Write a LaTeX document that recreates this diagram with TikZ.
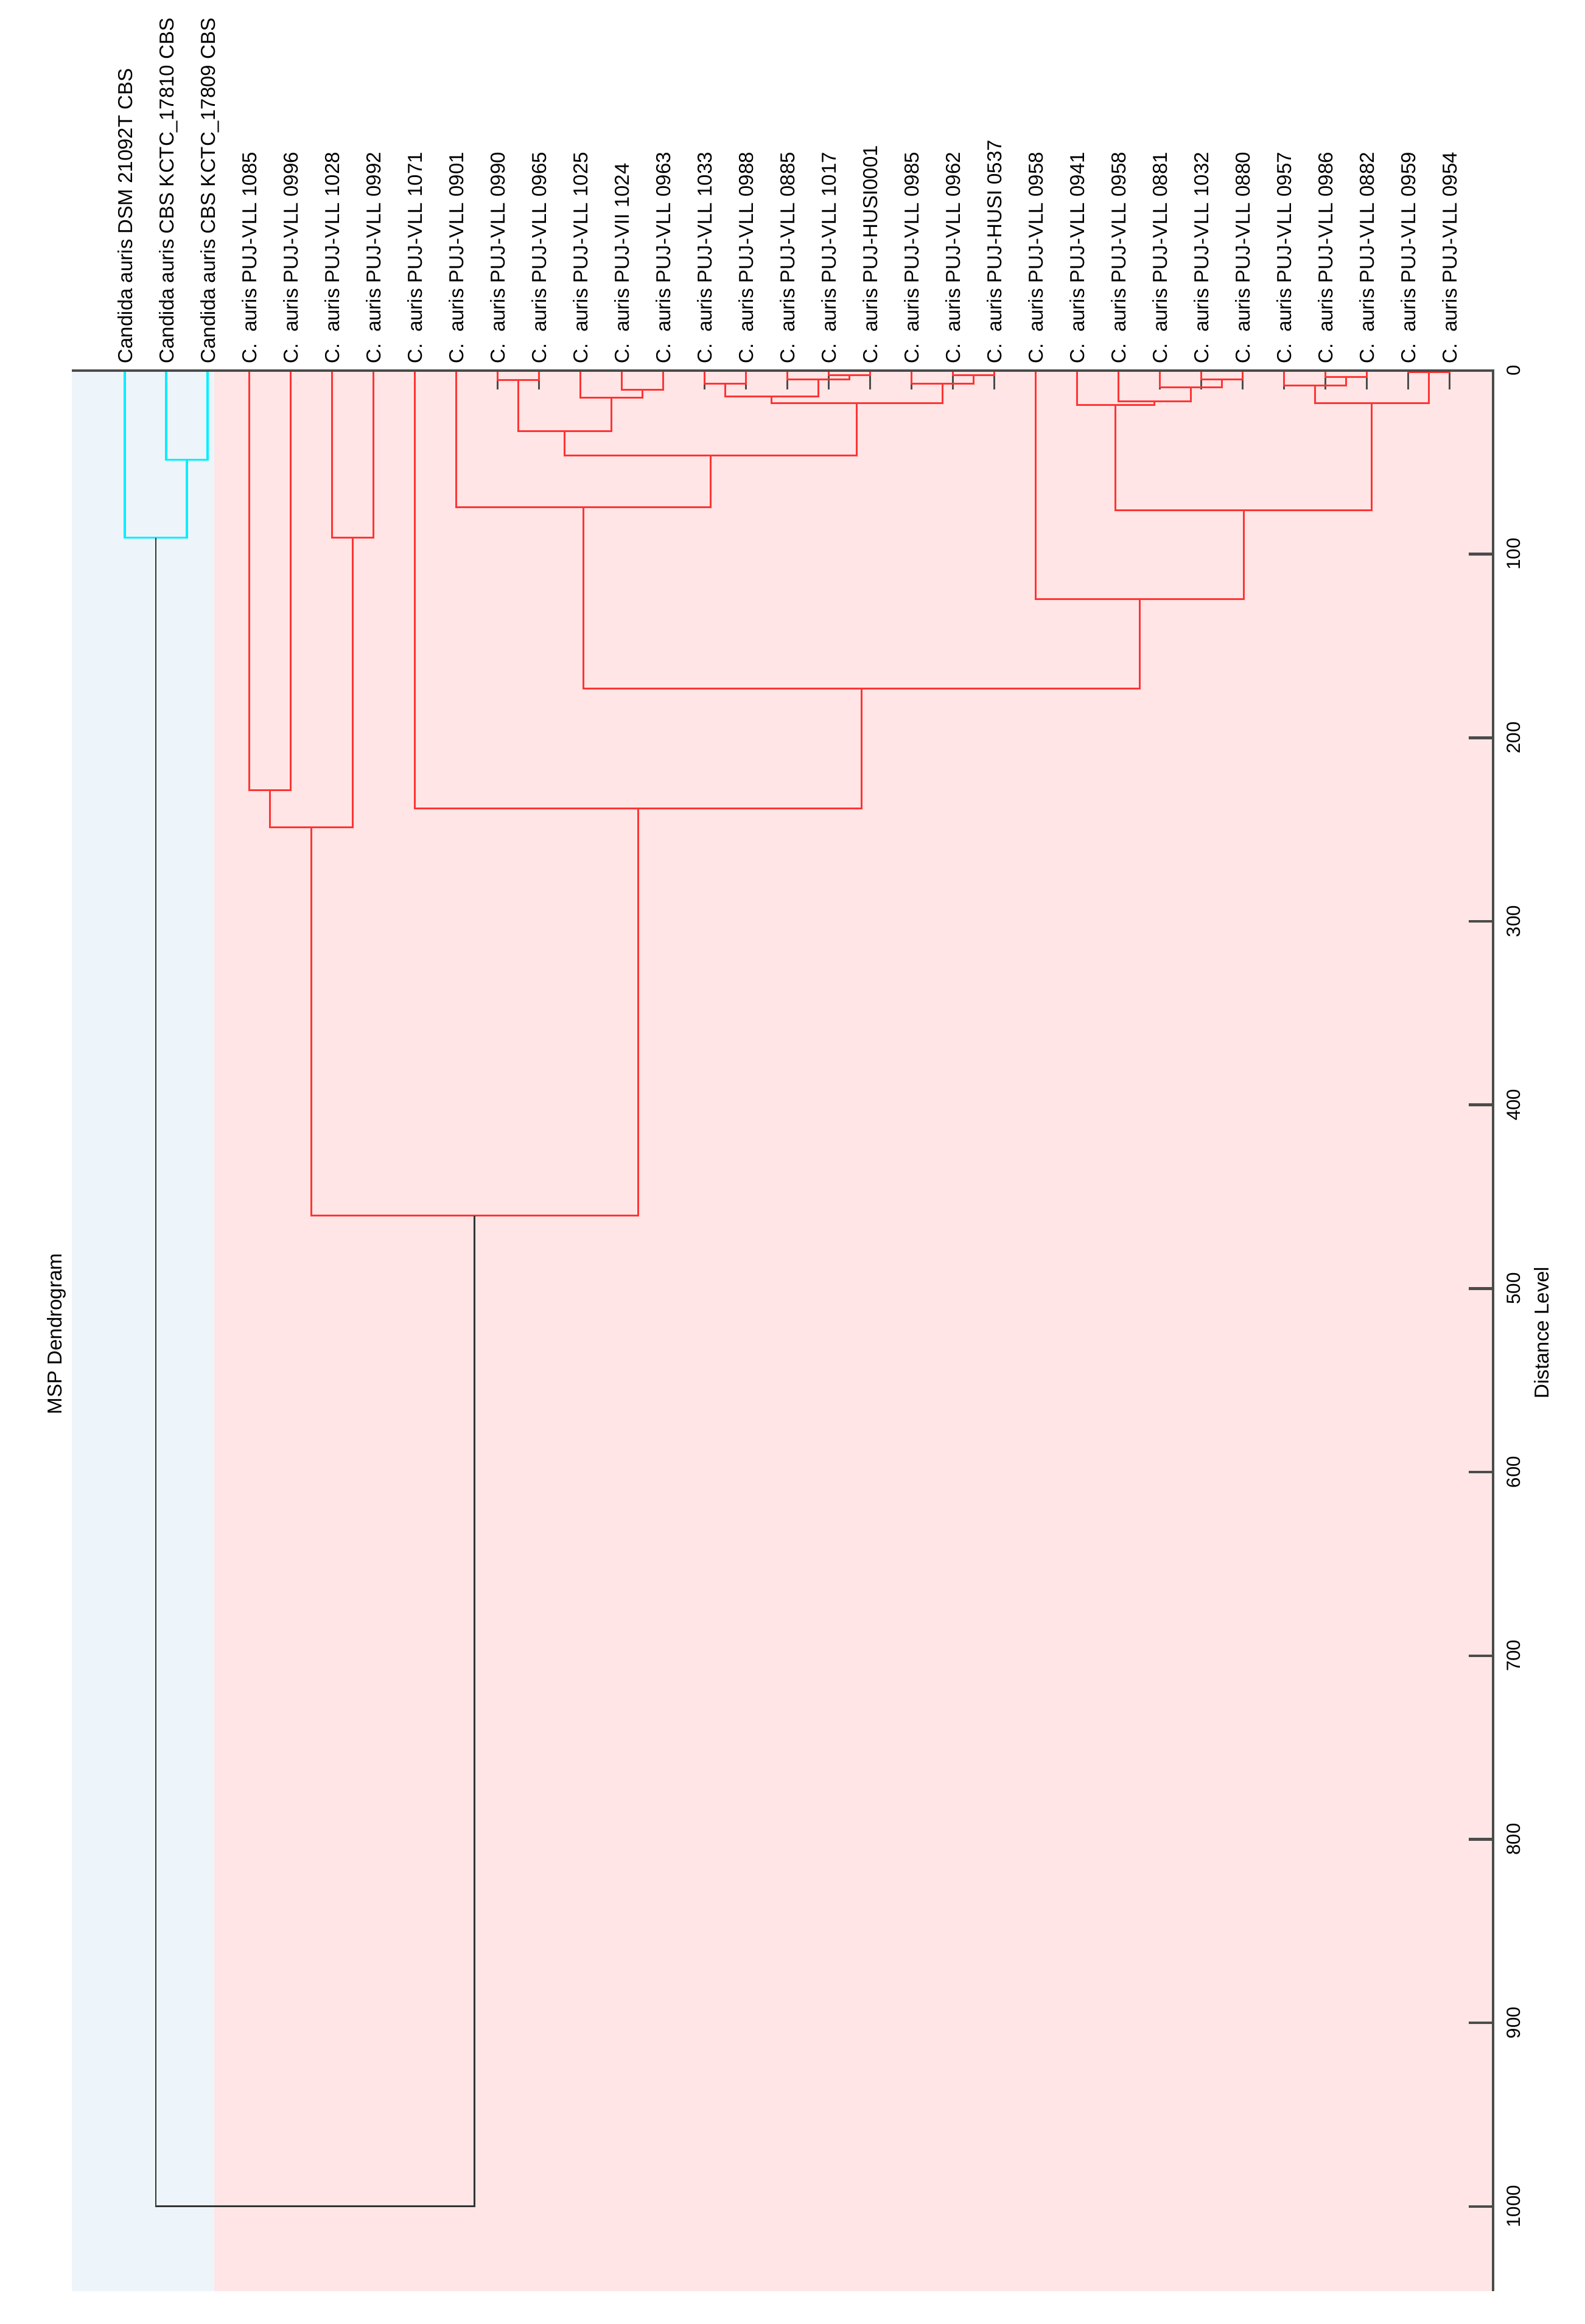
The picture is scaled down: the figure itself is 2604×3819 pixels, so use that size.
\documentclass[tikz,border=0pt]{standalone}
\usepackage{fontspec}
\setmainfont{Liberation Sans}
\definecolor{linkred}{RGB}{255,52,52}
\definecolor{linkcyan}{RGB}{0,238,255}
\definecolor{bluebg}{RGB}{237,245,250}
\definecolor{pinkbg}{RGB}{255,229,229}
\definecolor{axisgray}{RGB}{75,75,75}
\begin{document}
\begin{tikzpicture}[x=0.01cm, y=-0.01cm,
  font=\fontsize{9.4}{11}\selectfont,
  leaf/.style={rotate=90, anchor=west, inner sep=0pt, text height=0.72em, text depth=0pt},
  ticklabel/.style={rotate=90, anchor=north, inner sep=0pt, text height=0.72em, text depth=0pt,
    font=\fontsize{8.9}{10}\selectfont},
  redlink/.style={draw=linkred, line width=0.85pt},
  cyanlink/.style={draw=linkcyan, line width=1pt},
  rootlink/.style={draw=black!80, line width=0.85pt},
  leaftick/.style={draw=black!70, line width=0.85pt},
  axisline/.style={draw=axisgray, line width=1.3pt}]

\useasboundingbox (0,0) rectangle (2604,3819);

%shaded groups
    \fill[bluebg] (118,609) rectangle (352,3765);
    \fill[pinkbg] (352,609) rectangle (2453,3765);

%titles
    \node[rotate=90] (title) at (93,2192) {MSP Dendrogram};
    \node[rotate=90] (axistitle) at (2533,2190) {Distance Level};

\begin{scope}[shift={(0,609)}, y=-0.03015cm]

%strains and labels
  \foreach \i/\name in {1/Candida auris DSM 21092T CBS, 2/Candida auris CBS KCTC\_17810 CBS,
      3/Candida auris CBS KCTC\_17809 CBS, 4/C.\ \ auris PUJ-VLL 1085, 5/C.\ \ auris PUJ-VLL 0996,
      6/C.\ \ auris PUJ-VLL 1028, 7/C.\ \ auris PUJ-VLL 0992, 8/C.\ \ auris PUJ-VLL 1071,
      9/C.\ \ auris PUJ-VLL 0901, 10/C.\ \ auris PUJ-VLL 0990, 11/C.\ \ auris PUJ-VLL 0965,
      12/C.\ \ auris PUJ-VLL 1025, 13/C.\ \ auris PUJ-VII 1024, 14/C.\ \ auris PUJ-VLL 0963,
      15/C.\ \ auris PUJ-VLL 1033, 16/C.\ \ auris PUJ-VLL 0988, 17/C.\ \ auris PUJ-VLL 0885,
      18/C.\ \ auris PUJ-VLL 1017, 19/C.\ \ auris PUJ-HUSI0001, 20/C.\ \ auris PUJ-VLL 0985,
      21/C.\ \ auris PUJ-VLL 0962, 22/C.\ \ auris PUJ-HUSI 0537, 23/C.\ \ auris PUJ-VLL 0958,
      24/C.\ \ auris PUJ-VLL 0941, 25/C.\ \ auris PUJ-VLL 0958, 26/C.\ \ auris PUJ-VLL 0881,
      27/C.\ \ auris PUJ-VLL 1032, 28/C.\ \ auris PUJ-VLL 0880, 29/C.\ \ auris PUJ-VLL 0957,
      30/C.\ \ auris PUJ-VLL 0986, 31/C.\ \ auris PUJ-VLL 0882, 32/C.\ \ auris PUJ-VLL 0959,
      33/C.\ \ auris PUJ-VLL 0954} {
    \pgfmathsetmacro\x{205+68*(\i-1)}
    \coordinate (s\i) at (\x,0);
    \node[leaf] (t\i) at (\x,-3.65) {\name};
    \draw[leaftick] (s\i) -- ++(0,10.3); }

%join points (x, distance)
    \coordinate (j23) at (307,48.5);
    \coordinate (j13) at (256,91);
    \coordinate (j45) at (443,228.6);
    \coordinate (j67) at (579,91);
    \coordinate (j47) at (511,248.8);
    \coordinate (j1011) at (851,5.3);
    \coordinate (j1314) at (1055,10.5);
    \coordinate (j1214) at (1004,14.7);
    \coordinate (j1014) at (927.5,33);
    \coordinate (j1516) at (1191,7.2);
    \coordinate (j1819) at (1395,2.5);
    \coordinate (j1719) at (1344,4.8);
    \coordinate (j1519) at (1267.5,14.2);
    \coordinate (j2122) at (1599,2.5);
    \coordinate (j2022) at (1548,7.2);
    \coordinate (j1522) at (1407.75,17.8);
    \coordinate (j1022) at (1167.6,46.2);
    \coordinate (j922) at (958.3,74.3);
    \coordinate (j2728) at (2007,4.8);
    \coordinate (j2628) at (1956,9.2);
    \coordinate (j2528) at (1896.5,16.7);
    \coordinate (j2428) at (1832.75,18.6);
    \coordinate (j3031) at (2211,3.6);
    \coordinate (j2931) at (2160,8.1);
    \coordinate (j3233) at (2347,0.9);
    \coordinate (j2933) at (2253.5,17.8);
    \coordinate (j2433) at (2043.1,76);
    \coordinate (j2333) at (1872.1,124.4);
    \coordinate (j933) at (1415.2,173.3);
    \coordinate (j833) at (1048.1,238.5);
    \coordinate (j433) at (779.5,460.3);
    \coordinate (root) at (517.8,1000);

%reference strains
    \draw[cyanlink] (s2) |- (j23) -| (s3);
    \draw[cyanlink] (s1) |- (j13) -| (j23);

%clinical isolates
    \draw[redlink] (s4) |- (j45) -| (s5);
    \draw[redlink] (s6) |- (j67) -| (s7);
    \draw[redlink] (j45) |- (j47) -| (j67);
    \draw[redlink] (s10) |- (j1011) -| (s11);
    \draw[redlink] (s13) |- (j1314) -| (s14);
    \draw[redlink] (s12) |- (j1214) -| (j1314);
    \draw[redlink] (j1011) |- (j1014) -| (j1214);
    \draw[redlink] (s15) |- (j1516) -| (s16);
    \draw[redlink] (s18) |- (j1819) -| (s19);
    \draw[redlink] (s17) |- (j1719) -| (j1819);
    \draw[redlink] (j1516) |- (j1519) -| (j1719);
    \draw[redlink] (s21) |- (j2122) -| (s22);
    \draw[redlink] (s20) |- (j2022) -| (j2122);
    \draw[redlink] (j1519) |- (j1522) -| (j2022);
    \draw[redlink] (j1014) |- (j1022) -| (j1522);
    \draw[redlink] (s9) |- (j922) -| (j1022);
    \draw[redlink] (s27) |- (j2728) -| (s28);
    \draw[redlink] (s26) |- (j2628) -| (j2728);
    \draw[redlink] (s25) |- (j2528) -| (j2628);
    \draw[redlink] (s24) |- (j2428) -| (j2528);
    \draw[redlink] (s30) |- (j3031) -| (s31);
    \draw[redlink] (s29) |- (j2931) -| (j3031);
    \draw[redlink] (s32) |- (j3233) -| (s33);
    \draw[redlink] (j2931) |- (j2933) -| (j3233);
    \draw[redlink] (j2428) |- (j2433) -| (j2933);
    \draw[redlink] (s23) |- (j2333) -| (j2433);
    \draw[redlink] (j922) |- (j933) -| (j2333);
    \draw[redlink] (s8) |- (j833) -| (j933);
    \draw[redlink] (j47) |- (j433) -| (j833);

%root
    \draw[rootlink] (j13) |- (root) -| (j433);

%distance axis
    \foreach \d in {0,100,...,1000} {
    \draw[axisline] (2413,\d) -- (2453,\d);
    \node[ticklabel] (tick\d) at (2471,\d) {\d}; }
\end{scope}

%frame
    \draw[axisline] (118,609) -- (2453,609) -- (2453,3765);

\end{tikzpicture}
\end{document}
